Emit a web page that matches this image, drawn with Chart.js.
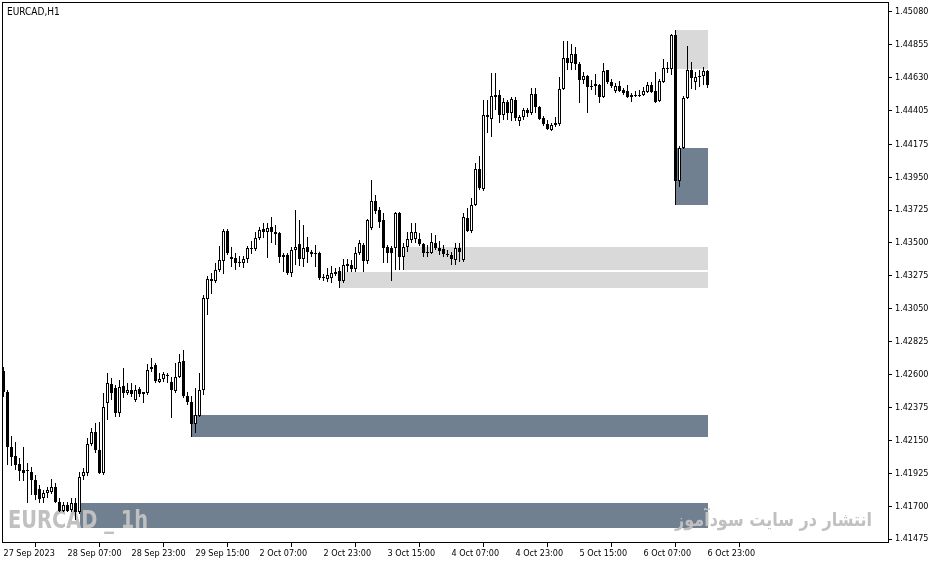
<!DOCTYPE html>
<html>
<head>
<meta charset="UTF-8">
<title>EURCAD,H1</title>
<style>
  html, body { margin: 0; padding: 0; background: #fff; }
  #chart { display: block; }
</style>
</head>
<body>
<canvas id="chart" width="935" height="563"></canvas>
<script src="https://cdn.jsdelivr.net/npm/chart.js@4"></script>
<script>
// EURCAD H1, 27 Sep 15:00 .. 6 Oct 23:00 (one entry per bar)
const symbolTitle = 'EURCAD,H1';

const opens = [
  1.42624,1.42481,1.42105,1.42043,1.41988,1.41947,1.41940,1.41934,1.41879,1.41817,
  1.41756,1.41790,1.41797,1.41831,1.41728,1.41667,1.41708,1.41674,1.41721,1.41660,
  1.41906,1.41927,1.42125,1.42207,1.42084,1.41927,1.42405,1.42535,1.42508,1.42337,
  1.42522,1.42474,1.42494,1.42426,1.42501,1.42467,1.42474,1.42638,1.42665,1.42549,
  1.42570,1.42590,1.42549,1.42488,1.42583,1.42693,1.42453,1.42412,1.42262,1.42317,
  1.42494,1.43117,1.43254,1.43240,1.43315,1.43377,1.43582,1.43404,1.43397,1.43370,
  1.43363,1.43390,1.43459,1.43459,1.43534,1.43596,1.43575,1.43609,1.43575,1.43568,
  1.43404,1.43418,1.43295,1.43452,1.43493,1.43390,1.43473,1.43438,1.43432,1.43432,
  1.43261,1.43254,1.43261,1.43288,1.43308,1.43240,1.43343,1.43349,1.43322,1.43432,
  1.43486,1.43377,1.43603,1.43787,1.43726,1.43657,1.43473,1.43466,1.43466,1.43705,
  1.43404,1.43473,1.43520,1.43527,1.43527,1.43493,1.43438,1.43432,1.43500,1.43466,
  1.43459,1.43425,1.43418,1.43384,1.43466,1.43384,1.43671,1.43582,1.43760,1.44006,
  1.43869,1.44375,1.44348,1.44512,1.44512,1.44375,1.44464,1.44389,1.44478,1.44334,
  1.44362,1.44410,1.44389,1.44519,1.44430,1.44355,1.44314,1.44273,1.44307,1.44314,
  1.44553,1.44765,1.44731,1.44793,1.44724,1.44615,1.44642,1.44567,1.44574,1.44581,
  1.44498,1.44683,1.44601,1.44540,1.44574,1.44546,1.44540,1.44498,1.44505,1.44512,
  1.44512,1.44533,1.44581,1.44540,1.44471,1.44601,1.44697,1.44690,1.44923,1.43924,
  1.44150,1.44492,1.44683,1.44601,1.44635,1.44642,1.44676
];
const highs = [
  1.42652,1.42494,1.42180,1.42139,1.42029,1.42105,1.41995,1.41968,1.41913,1.41845,
  1.41810,1.41831,1.41886,1.41858,1.41756,1.41728,1.41728,1.41756,1.41756,1.41934,
  1.41961,1.42166,1.42234,1.42269,1.42276,1.42474,1.42611,1.42577,1.42529,1.42563,
  1.42645,1.42542,1.42542,1.42529,1.42515,1.42481,1.42672,1.42713,1.42679,1.42611,
  1.42618,1.42611,1.42583,1.42679,1.42741,1.42768,1.42481,1.42453,1.42508,1.42611,
  1.43144,1.43274,1.43295,1.43363,1.43479,1.43596,1.43596,1.43473,1.43432,1.43411,
  1.43411,1.43479,1.43514,1.43575,1.43609,1.43637,1.43637,1.43678,1.43623,1.43575,
  1.43432,1.43432,1.43473,1.43726,1.43657,1.43623,1.43541,1.43452,1.43486,1.43440,
  1.43288,1.43329,1.43343,1.43329,1.43336,1.43390,1.43390,1.43384,1.43473,1.43520,
  1.43500,1.43664,1.43931,1.43828,1.43746,1.43705,1.43486,1.43479,1.43712,1.43712,
  1.43500,1.43575,1.43637,1.43637,1.43568,1.43500,1.43486,1.43568,1.43555,1.43514,
  1.43486,1.43452,1.43438,1.43500,1.43500,1.43705,1.43739,1.43808,1.44047,1.44095,
  1.44478,1.44478,1.44663,1.44663,1.44546,1.44492,1.44478,1.44498,1.44498,1.44375,
  1.44423,1.44423,1.44560,1.44560,1.44437,1.44369,1.44341,1.44321,1.44362,1.44635,
  1.44882,1.44882,1.44861,1.44840,1.44738,1.44670,1.44649,1.44615,1.44656,1.44587,
  1.44731,1.44683,1.44622,1.44594,1.44608,1.44560,1.44581,1.44526,1.44540,1.44546,
  1.44567,1.44601,1.44601,1.44670,1.44622,1.44758,1.44738,1.44929,1.44957,1.44163,
  1.44505,1.44847,1.44738,1.44670,1.44683,1.44704,1.44683
];
const lows = [
  1.42447,1.41981,1.41975,1.41947,1.41872,1.41872,1.41721,1.41776,1.41742,1.41721,
  1.41721,1.41756,1.41783,1.41721,1.41660,1.41660,1.41660,1.41660,1.41605,1.41646,
  1.41879,1.41906,1.42111,1.42063,1.41920,1.41913,1.42289,1.42426,1.42310,1.42310,
  1.42440,1.42460,1.42447,1.42412,1.42447,1.42405,1.42460,1.42618,1.42542,1.42542,
  1.42549,1.42542,1.42303,1.42474,1.42577,1.42440,1.42392,1.42173,1.42200,1.42310,
  1.42460,1.43007,1.43151,1.43226,1.43302,1.43288,1.43418,1.43336,1.43315,1.43336,
  1.43329,1.43363,1.43425,1.43445,1.43520,1.43534,1.43397,1.43500,1.43486,1.43363,
  1.43302,1.43281,1.43267,1.43349,1.43343,1.43336,1.43363,1.43404,1.43336,1.43247,
  1.43240,1.43233,1.43226,1.43274,1.43192,1.43226,1.43302,1.43302,1.43302,1.43418,
  1.43302,1.43356,1.43589,1.43698,1.43603,1.43363,1.43363,1.43240,1.43315,1.43315,
  1.43315,1.43438,1.43500,1.43500,1.43479,1.43404,1.43404,1.43425,1.43452,1.43418,
  1.43404,1.43404,1.43349,1.43349,1.43370,1.43370,1.43575,1.43568,1.43753,1.43862,
  1.43856,1.44252,1.44225,1.44410,1.44321,1.44341,1.44341,1.44334,1.44334,1.44300,
  1.44341,1.44362,1.44375,1.44389,1.44341,1.44300,1.44273,1.44266,1.44293,1.44300,
  1.44546,1.44683,1.44683,1.44683,1.44457,1.44587,1.44389,1.44546,1.44512,1.44457,
  1.44492,1.44587,1.44560,1.44526,1.44533,1.44512,1.44492,1.44464,1.44498,1.44498,
  1.44505,1.44526,1.44526,1.44457,1.44464,1.44594,1.44663,1.44649,1.43760,1.43883,
  1.44143,1.44485,1.44553,1.44546,1.44567,1.44581,1.44560
];
const closes = [
  1.42481,1.42105,1.42036,1.41981,1.41940,1.41927,1.41947,1.41879,1.41776,1.41749,
  1.41790,1.41810,1.41831,1.41728,1.41667,1.41708,1.41667,1.41721,1.41660,1.41899,
  1.41934,1.42125,1.42207,1.42084,1.41927,1.42378,1.42542,1.42474,1.42337,1.42515,
  1.42474,1.42494,1.42467,1.42494,1.42467,1.42481,1.42631,1.42652,1.42556,1.42570,
  1.42604,1.42597,1.42494,1.42583,1.42686,1.42453,1.42412,1.42262,1.42323,1.42494,
  1.43124,1.43254,1.43240,1.43315,1.43384,1.43582,1.43432,1.43390,1.43363,1.43363,
  1.43390,1.43466,1.43466,1.43534,1.43589,1.43575,1.43603,1.43575,1.43561,1.43404,
  1.43418,1.43295,1.43452,1.43473,1.43390,1.43466,1.43438,1.43425,1.43425,1.43261,
  1.43267,1.43281,1.43295,1.43302,1.43240,1.43349,1.43356,1.43322,1.43432,1.43500,
  1.43377,1.43657,1.43787,1.43719,1.43644,1.43466,1.43432,1.43432,1.43705,1.43404,
  1.43473,1.43527,1.43575,1.43575,1.43493,1.43432,1.43432,1.43507,1.43466,1.43445,
  1.43425,1.43418,1.43390,1.43466,1.43438,1.43678,1.43582,1.43760,1.44006,1.43876,
  1.44375,1.44362,1.44505,1.44498,1.44375,1.44464,1.44389,1.44485,1.44355,1.44362,
  1.44410,1.44389,1.44519,1.44430,1.44348,1.44314,1.44280,1.44307,1.44321,1.44553,
  1.44765,1.44731,1.44793,1.44724,1.44615,1.44642,1.44567,1.44574,1.44587,1.44498,
  1.44676,1.44601,1.44574,1.44574,1.44540,1.44526,1.44498,1.44512,1.44512,1.44505,
  1.44540,1.44581,1.44533,1.44464,1.44608,1.44697,1.44690,1.44923,1.43924,1.44150,
  1.44492,1.44683,1.44628,1.44635,1.44642,1.44676,1.44581
];

// time axis: bar index of each label
const xTickBars = [0, 16, 32, 48, 64, 80, 96, 112, 128, 144, 160, 176];
const xTickLabels = ['27 Sep 2023', '28 Sep 07:00', '28 Sep 23:00', '29 Sep 15:00', '2 Oct 07:00',
  '2 Oct 23:00', '3 Oct 15:00', '4 Oct 07:00', '4 Oct 23:00', '5 Oct 15:00', '6 Oct 07:00', '6 Oct 23:00'];

// price axis
const yTicks = [1.45080, 1.44855, 1.44630, 1.44405, 1.44175, 1.43950, 1.43725, 1.43500, 1.43275,
  1.43050, 1.42825, 1.42600, 1.42375, 1.42150, 1.41925, 1.41700, 1.41475];

// supply / demand zones (bar index from..to, price top..bottom)
const zoneStart  = [19, 47, 84, 100, 168, 168];
const zoneEnd    = [176, 176, 176, 176, 176, 176];
const zoneTop    = [1.41721, 1.42323, 1.43304, 1.43472, 1.44957, 1.44152];
const zoneBottom = [1.41554, 1.42173, 1.43194, 1.43317, 1.44690, 1.43760];
const zoneKind   = ['dark', 'dark', 'light', 'light', 'light', 'dark'];

const watermarkLeft = 'EURCAD _ 1h';
const watermarkRight = 'انتشار در سایت سودآموز';

const tickFont = { family: '"DejaVu Sans Condensed", "Liberation Sans", sans-serif', size: 9 };

const bars = opens.map((_, i) => i);
const bodyData = bars.map(i => ({ x: i, y: [opens[i], closes[i]] }));
const wickData = bars.map(i => ({ x: i, y: [lows[i], highs[i]] }));

const overlays = {
  id: 'overlays',
  beforeDatasetsDraw(chart) {
    const { ctx, chartArea: a } = chart;
    const xs = chart.scales.x, ys = chart.scales.y;
    ctx.save();
    ctx.beginPath();
    ctx.rect(a.left, a.top, a.width, a.height);
    ctx.clip();
    zoneStart.forEach((s, k) => {
      const x0 = Math.round(xs.getPixelForValue(s));
      const x1 = Math.round(xs.getPixelForValue(zoneEnd[k]));
      const y0 = Math.round(ys.getPixelForValue(zoneTop[k]));
      const y1 = Math.round(ys.getPixelForValue(zoneBottom[k]));
      ctx.fillStyle = zoneKind[k] === 'dark' ? '#708090' : '#d9d9d9';
      ctx.fillRect(x0, y0, x1 - x0, y1 - y0);
    });

    // watermarks
    ctx.fillStyle = '#c0c0c0';
    ctx.textBaseline = 'alphabetic';
    ctx.font = 'bold 25px "Liberation Sans Narrow", "DejaVu Sans Condensed", sans-serif';
    let w = ctx.measureText(watermarkLeft).width;
    ctx.save();
    ctx.translate(a.left + 6, a.bottom - 14);
    ctx.scale(140 / w, 1);
    ctx.textAlign = 'left';
    ctx.fillText(watermarkLeft, 0, 0);
    ctx.restore();

    ctx.font = 'bold 19px "DejaVu Sans", sans-serif';
    w = ctx.measureText(watermarkRight).width;
    ctx.save();
    ctx.translate(a.right - 16, a.bottom - 16);
    ctx.scale(197 / w, 1);
    ctx.textAlign = 'right';
    ctx.fillText(watermarkRight, 0, 0);
    ctx.restore();
    ctx.restore();
  },
  afterDraw(chart) {
    const { ctx, chartArea: a } = chart;
    ctx.save();
    ctx.strokeStyle = '#000';
    ctx.lineWidth = 1;
    ctx.strokeRect(Math.floor(a.left) + 0.5, Math.floor(a.top) + 0.5,
      Math.round(a.right - a.left), Math.round(a.bottom - a.top));
    ctx.fillStyle = '#000';
    ctx.font = '10px "DejaVu Sans Condensed", "Liberation Sans", sans-serif';
    ctx.textBaseline = 'alphabetic';
    ctx.fillText(symbolTitle, a.left + 5, a.top + 13);
    ctx.restore();
  }
};

new Chart(document.getElementById('chart'), {
  type: 'bar',
  data: {
    datasets: [
      {
        data: bodyData,
        grouped: false,
        barThickness: 3,
        borderWidth: 1,
        borderColor: '#000',
        borderSkipped: false,
        minBarLength: 1,
        inflateAmount: 0,
        backgroundColor: c => (closes[c.dataIndex] >= opens[c.dataIndex] ? '#ffffff' : '#000000')
      },
      {
        data: wickData,
        grouped: false,
        barThickness: 1,
        borderWidth: 0,
        inflateAmount: 0,
        backgroundColor: '#000000'
      }
    ]
  },
  options: {
    responsive: false,
    animation: false,
    devicePixelRatio: 1,
    layout: { padding: { left: 2, top: 2, right: 0, bottom: 0 } },
    plugins: { legend: { display: false }, tooltip: { enabled: false } },
    scales: {
      x: {
        type: 'linear',
        min: -0.375,
        max: 221.125,
        offset: false,
        afterBuildTicks: s => { s.ticks = xTickBars.map(v => ({ value: v })); },
        afterFit: s => { s.height = 21; s.paddingLeft = 0; s.paddingRight = 0; },
        border: { display: false },
        grid: { drawOnChartArea: false, drawTicks: true, tickLength: 5, color: '#000' },
        ticks: {
          autoSkip: false, maxRotation: 0, minRotation: 0, align: 'start', padding: 1,
          color: '#000', font: tickFont,
          callback: v => { const k = xTickBars.indexOf(v); return k >= 0 ? xTickLabels[k] : ''; }
        }
      },
      y: {
        type: 'linear',
        position: 'right',
        min: 1.41455,
        max: 1.45148,
        afterBuildTicks: s => { s.ticks = yTicks.map(v => ({ value: v })); },
        afterFit: s => { s.width = 47; s.paddingTop = 0; s.paddingBottom = 0; },
        border: { display: false },
        grid: { drawOnChartArea: false, drawTicks: true, tickLength: 4, color: '#000' },
        ticks: { padding: 3, color: '#000', font: tickFont, callback: v => v.toFixed(5) }
      }
    }
  },
  plugins: [overlays]
});
</script>
</body>
</html>
